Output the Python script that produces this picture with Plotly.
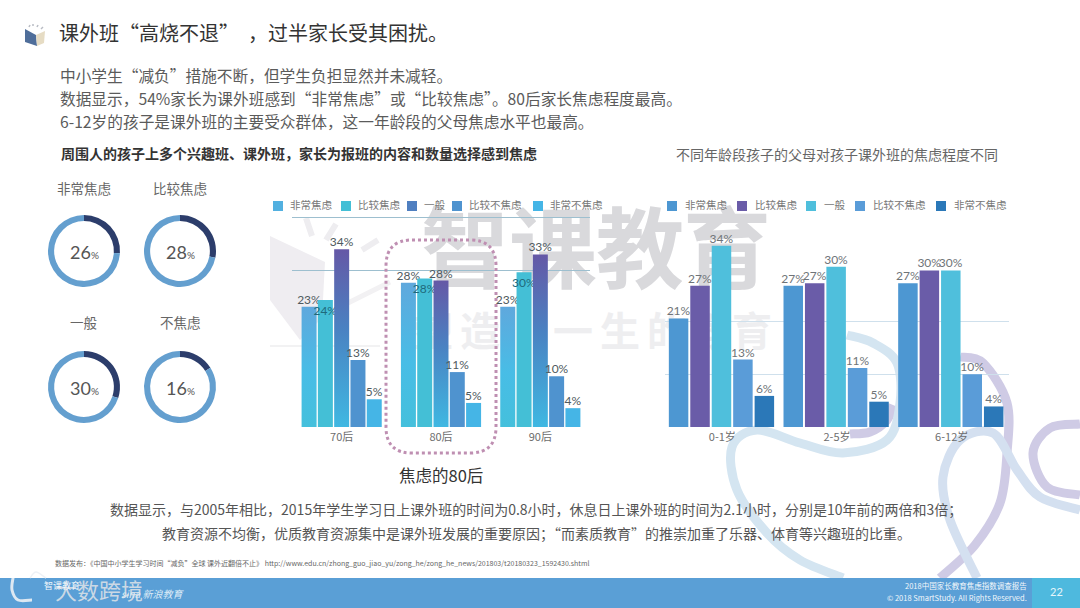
import plotly.graph_objects as go

W, H = 1080, 608
FONT = "Noto Sans CJK SC"

# ---------- data ----------
generations = ["70后", "80后", "90后"]
left_series = ["非常焦虑", "比较焦虑", "一般", "比较不焦虑", "非常不焦虑"]
very_anxious_gen = [23, 27.6, 23]
rather_anxious_gen = [24.3, 28.4, 29.6]
neutral_gen = [34, 28, 33]
rather_not_gen = [12.8, 10.5, 9.7]
very_not_gen = [5.3, 4.6, 3.6]
left_values = [very_anxious_gen, rather_anxious_gen, neutral_gen, rather_not_gen, very_not_gen]
left_colors = ["#52b0e0", "#44bfd6", "#4f7fc0", "#4f93cf", "#45b5e6"]

age_groups = ["0-1岁", "2-5岁", "6-12岁"]
right_series = ["非常焦虑", "比较焦虑", "一般", "比较不焦虑", "非常不焦虑"]
very_anxious_age = [20.6, 26.8, 27.3]
rather_anxious_age = [26.8, 27.3, 29.7]
neutral_age = [34.4, 30.4, 29.7]
rather_not_age = [12.8, 11.2, 10]
very_not_age = [5.9, 4.8, 3.9]
right_values = [very_anxious_age, rather_anxious_age, neutral_age, rather_not_age, very_not_age]
right_colors = ["#4d97d2", "#6a5ca8", "#4fbfdc", "#5a9cd8", "#2b78b8"]

donut_labels = ["非常焦虑", "比较焦虑", "一般", "不焦虑"]
donut_values = [26, 28, 30, 16]

body_lines = [
    "中小学生“减负”措施不断，但学生负担显然并未减轻。",
    "数据显示，54%家长为课外班感到“非常焦虑”或“比较焦虑”。80后家长焦虑程度最高。",
    "6-12岁的孩子是课外班的主要受众群体，这一年龄段的父母焦虑水平也最高。",
]
bottom_lines = [
    "数据显示，与2005年相比，2015年学生学习日上课外班的时间为0.8小时，休息日上课外班的时间为2.1小时，分别是10年前的两倍和3倍；",
    "教育资源不均衡，优质教育资源集中是课外班发展的重要原因；“而素质教育”的推崇加重了乐器、体育等兴趣班的比重。",
]


def X(px):
    return px / W


def Y(py):
    return 1 - py / H


def path(points, close=False, smooth=False):
    pts = [(X(a), Y(b)) for a, b in points]
    if smooth:
        d = f"M{pts[0][0]},{pts[0][1]}"
        for i in range(len(pts) - 1):
            p0 = pts[max(i - 1, 0)]
            p1 = pts[i]
            p2 = pts[i + 1]
            p3 = pts[min(i + 2, len(pts) - 1)]
            c1 = (p1[0] + (p2[0] - p0[0]) / 6, p1[1] + (p2[1] - p0[1]) / 6)
            c2 = (p2[0] - (p3[0] - p1[0]) / 6, p2[1] - (p3[1] - p1[1]) / 6)
            d += f" C{c1[0]},{c1[1]} {c2[0]},{c2[1]} {p2[0]},{p2[1]}"
    else:
        d = "M" + " L".join(f"{a},{b}" for a, b in pts)
    return d + (" Z" if close else "")


fig = go.Figure()

for i, (name, vals, col) in enumerate(zip(left_series, left_values, left_colors)):
    inside = i == 1  # the second series carries its labels just inside the top of the bar
    fig.add_bar(x=generations, y=vals, name=name, marker=dict(color=col, line_width=0),
                texttemplate="%{y:.0f}%", textposition="inside" if inside else "outside",
                insidetextanchor="end", cliponaxis=False, constraintext="none",
                textfont=dict(size=12, color="#1f6a7c" if inside else "#4f5a60", family="Lato, " + FONT),
                textangle=0, hoverinfo="skip", showlegend=False, xaxis="x", yaxis="y")
PITCH = 0.187
for i, (name, vals, col) in enumerate(zip(right_series, right_values, right_colors)):
    fig.add_bar(x=age_groups, y=vals, name=name, marker=dict(color=col, line_width=0),
                width=0.17, offset=-0.4665 + i * PITCH,
                texttemplate="%{y:.0f}%", textposition="outside", cliponaxis=False, constraintext="none",
                textfont=dict(size=12, color="#6f7478", family="Lato, " + FONT),
                textangle=0, hoverinfo="skip", showlegend=False, xaxis="x2", yaxis="y2")

centers = [(84, 251), (180, 251), (84, 387), (180, 387)]
R = 36
for (cx, cy), v, lab in zip(centers, donut_values, donut_labels):
    fig.add_pie(values=[v, 100 - v], labels=[lab, "其他"], hole=0.83, sort=False, direction="clockwise",
                rotation=0, textinfo="none", hoverinfo="skip", showlegend=False,
                marker=dict(colors=["#2c3d6b", "#649fcf"], line_width=0),
                domain=dict(x=[X(cx - R), X(cx + R)], y=[Y(cy + R), Y(cy - R)]))

shapes = []


def deco(points, color, width=9, layer="below"):
    shapes.append(dict(type="path", xref="paper", yref="paper", layer=layer,
                       path=path(points, smooth=True), line=dict(color=color, width=width)))


def poly(points, color, layer="below"):
    shapes.append(dict(type="path", xref="paper", yref="paper", layer=layer,
                       path=path(points, close=True), fillcolor=color, line_width=0))


def rect(x0, y0, x1, y1, color, layer="above"):
    shapes.append(dict(type="rect", xref="paper", yref="paper", layer=layer,
                       x0=X(x0), x1=X(x1), y0=Y(y0), y1=Y(y1), fillcolor=color, line_width=0))


def lower_text(text, cx, cy, size, color):
    shapes.append(dict(type="rect", xref="paper", yref="paper", layer="below",
                       x0=X(cx - 5), x1=X(cx + 5), y0=Y(cy + 5), y1=Y(cy - 5),
                       fillcolor="rgba(0,0,0,0)", line_width=0,
                       label=dict(text=f"<b>{text}</b>", textposition="middle center",
                                  font=dict(size=size, color=color, family=FONT))))


# pale decorative curves
deco([(940, 578), (975, 545), (1000, 503), (1007, 453), (1007, 403), (983, 363), (960, 357)], "#cfcbe5")
deco([(850, 434), (870, 432), (887, 420), (893, 405)], "#cfcbe5")
deco([(1080, 424), (1050, 428), (1033, 453), (1047, 487), (1080, 495)], "#cfcbe5")
deco([(843, 578), (800, 560), (767, 533), (737, 490), (732, 447), (757, 430), (800, 443), (843, 453),
      (887, 440), (900, 403), (897, 363), (873, 343), (847, 335)], "#d4e5f1")
deco([(977, 578), (950, 520), (943, 477), (960, 440), (993, 433), (1017, 470), (1040, 497), (1080, 510)], "#d4e0f0")

# watermark logo
poly([(270, 236), (325, 262), (322, 318), (300, 340), (270, 300)], "#efedf1")
deco([(330, 312), (390, 282)], "#f2f1f3", 5)
deco([(306, 218), (312, 236)], "#eeedf0", 6)
deco([(336, 224), (326, 240)], "#eeedf0", 6)
deco([(378, 240), (362, 250)], "#eeedf0", 6)
deco([(270, 346), (380, 346)], "#f2f2f3", 2)

# watermark text
for ch, cx in zip("智课教育", [465, 553, 640, 727]):
    lower_text(ch, cx, 256, 88, "#d9d9dc")
for ch, cx in zip("塑造", [433, 480]):
    lower_text(ch, cx, 335, 40, "#eeeef0")
for ch, cx in zip("一生的教育", [573, 620, 667, 711, 752]):
    lower_text(ch, cx, 335, 40, "#eeeef0")

# header icon
poly([(25, 29), (36, 35), (37, 46), (25, 42)], "#4f6e9a", "above")
poly([(36, 35), (45, 31), (44, 43), (37, 46)], "#e6dcc4", "above")
for a, b in [((29, 27), (30, 25)), ((33, 26), (33, 24)), ((37, 27), (38, 25)), ((41, 29), (43, 27))]:
    deco([a, b], "#b9bcc4", 1.5, "above")

# dotted highlight
shapes.append(dict(type="path", xref="paper", yref="paper", layer="above",
                   path=("M" + f"{X(412)},{Y(240)} L{X(470)},{Y(240)} "
                         f"Q{X(496)},{Y(240)} {X(496)},{Y(266)} L{X(496)},{Y(427)} "
                         f"Q{X(496)},{Y(453)} {X(470)},{Y(453)} L{X(412)},{Y(453)} "
                         f"Q{X(386)},{Y(453)} {X(386)},{Y(427)} L{X(386)},{Y(266)} "
                         f"Q{X(386)},{Y(240)} {X(412)},{Y(240)} Z"),
                   line=dict(color="#bf8fb2", width=3, dash="dot")))

# footer
rect(0, 578, 1032, 608, "#5a9fd6")
rect(1032, 578, 1080, 608, "#4eb9de")

annotations = []
TEXT_SHIFT = -1.5


def text(s, x, y, size, color, anchor="left", family=FONT):
    annotations.append(dict(text=s, x=X(x), y=Y(y + TEXT_SHIFT), xref="paper", yref="paper", showarrow=False,
                            xanchor=anchor, yanchor="middle", align=anchor, borderpad=0,
                            font=dict(size=size, color=color, family=family)))


text("课外班“高烧不退”  ，过半家长受其困扰。", 58, 34, 20, "#333333")
for s, y in zip(body_lines, [77, 100, 123]):
    text(s, 59, y, 15.7, "#5b5b5b")
text("<b>周围人的孩子上多个兴趣班、课外班，家长为报班的内容和数量选择感到焦虑</b>", 60, 154, 14, "#333333")
text("不同年龄段孩子的父母对孩子课外班的焦虑程度不同", 837, 155, 14, "#666666", "center")
text("焦虑的80后", 441, 476, 16.5, "#333333", "center")

for (cx, cy), lab, v in zip(centers, donut_labels, donut_values):
    text(lab, cx, cy - 61 if cy < 300 else cy - 64, 13.5, "#666666", "center")
    text(f"{v}<span style='font-size:10px'>%</span>", cx, cy + 2, 18, "#555555", "center", "Lato, " + FONT)

# manual legends (swatch + label read from the series names)
left_swatches = [273, 341, 407, 452, 533]
for xs, name, col in zip(left_swatches, left_series, left_colors):
    rect(xs, 201, xs + 10, 211, col)
    text(name, xs + 16, 206, 10.5, "#777777")
right_swatches = [667, 737, 806, 855, 936]
for xs, name, col in zip(right_swatches, right_series, right_colors):
    rect(xs, 201, xs + 10, 211, col)
    text(name, xs + 17, 206, 10.5, "#777777")

for s, y in zip(bottom_lines, [511, 534]):
    text(s, 536, y, 14, "#555555", "center")
text("数据发布：《中国中小学生学习时间“减负”全球 课外近翻倍不止》 http://www.edu.cn/zhong_guo_jiao_yu/zong_he/zong_he_news/201803/t20180323_1592430.shtml",
     54, 564, 7, "#666666")

text("2018中国家长教育焦虑指数调查报告", 1028, 587, 7.5, "#f2f7fb", "right")
text("© 2018 SmartStudy. All Rights Reserved.", 1028, 599, 7.5, "#f2f7fb", "right")
text("22", 1056, 593, 11, "#e6f6fb", "center", "Lato, " + FONT)
text("大数跨境", 54, 590, 22, "rgba(225,228,232,0.85)")
text("智课教育", 43, 587, 9, "#f2f7fb")
text("<i>sina 新浪教育</i>", 120, 595, 10, "#dcebf6")
deco([(13, 578), (12, 590), (18, 600), (32, 600)], "rgba(235,240,245,0.9)", 3, "above")
deco([(30, 578), (36, 572), (46, 578)], "rgba(235,240,245,0.9)", 1.5, "above")

fig.update_layout(
    width=W, height=H, autosize=False,
    margin=dict(l=0, r=0, t=0, b=0),
    paper_bgcolor="#ffffff", plot_bgcolor="rgba(0,0,0,0)",
    barmode="group", bargap=0.18, bargroupgap=0.08,
    shapes=shapes, annotations=annotations,
    font=dict(family=FONT),
    xaxis=dict(domain=[X(292), X(590)], showgrid=False, zeroline=False, showline=False, ticks="",
               ticklabelstandoff=2,
               tickfont=dict(size=11, color="#6d6d6d", family=FONT), fixedrange=True),
    yaxis=dict(domain=[Y(427), Y(200)], range=[0, 227 / 5.23], tickvals=[30, 40], showticklabels=False,
               gridcolor="#9dbfcf", gridwidth=1, zeroline=False, showline=False, ticks="", fixedrange=True),
    xaxis2=dict(domain=[X(665), X(1009)], anchor="y2", showgrid=False, zeroline=False, showline=False, ticks="",
                ticklabelstandoff=2,
                tickfont=dict(size=11, color="#6d6d6d", family=FONT), fixedrange=True),
    yaxis2=dict(domain=[Y(427), Y(200)], range=[0, 227 / 5.27], anchor="x2", tickvals=[10, 20], showticklabels=False,
                gridcolor="#cfe0ec", gridwidth=1, zeroline=False, showline=False, ticks="", fixedrange=True),
)

post = """
document.body.style.margin = '0';
document.documentElement.style.overflow = 'hidden';
var gd = document.getElementById('{plot_id}');
var svg = gd.querySelector('svg.main-svg');
var NS = 'http://www.w3.org/2000/svg';
var defs = document.createElementNS(NS, 'defs');
function grad(id, stops) {
  var g = document.createElementNS(NS, 'linearGradient');
  g.setAttribute('id', id); g.setAttribute('x1', '0'); g.setAttribute('y1', '0');
  g.setAttribute('x2', '0'); g.setAttribute('y2', '1');
  stops.forEach(function (s) {
    var st = document.createElementNS(NS, 'stop');
    st.setAttribute('offset', s[0]); st.setAttribute('stop-color', s[1]);
    g.appendChild(st);
  });
  defs.appendChild(g);
}
grad('barA', [[0, '#5fa8dd'], [0.55, '#48bde6'], [1, '#44c0dc']]);
grad('barC', [[0, '#6558a6'], [0.45, '#4a82c2'], [1, '#3fb8e2']]);
svg.appendChild(defs);
var traces = gd.querySelectorAll('.barlayer .trace.bars');
[[0, 'barA'], [2, 'barC']].forEach(function (p) {
  traces[p[0]].querySelectorAll('path').forEach(function (el) {
    el.style.setProperty('fill', 'url(#' + p[1] + ')');
  });
});
traces.forEach(function (tr, idx) {
  if (idx === 1) return;
  tr.querySelectorAll('text').forEach(function (t) {
    t.setAttribute('transform', 'translate(0,3) ' + (t.getAttribute('transform') || ''));
  });
});
"""
fig.write_html("out.html", post_script=post, config={"displayModeBar": False})
